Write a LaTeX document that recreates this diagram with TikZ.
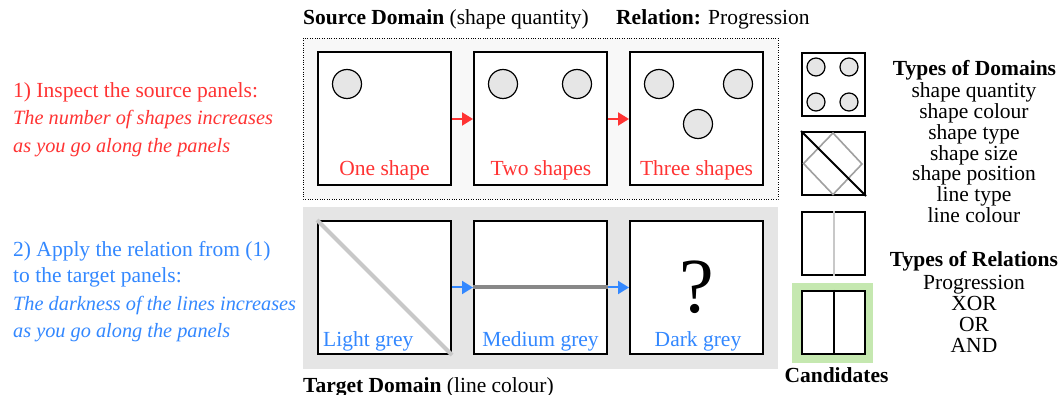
\documentclass[tikz,border=0pt]{standalone}
\usepackage{fontspec}
\setmainfont{Liberation Serif}
\usetikzlibrary{arrows.meta}
\definecolor{myred}{HTML}{FF3333}
\definecolor{myblue}{HTML}{3388FF}
\definecolor{srcbg}{HTML}{F8F8F8}
\definecolor{tgtbg}{HTML}{E5E5E5}
\definecolor{circfill}{HTML}{E6E6E6}
\definecolor{lightline}{HTML}{C8C8C8}
\definecolor{medline}{HTML}{888888}
\definecolor{candbg}{HTML}{C5E8B0}
\tikzset{
  txt/.style={font=\fontsize{21.5}{24}\selectfont, inner sep=0pt, anchor=base},
  itxt/.style={font=\fontsize{20.3}{24}\selectfont\itshape, inner sep=0pt, anchor=base west},
  panel/.style={draw, line width=2pt, fill=white, minimum size=133pt, inner sep=0pt},
  icon/.style={draw, line width=2pt, fill=white, minimum size=63pt, inner sep=0pt},
  circ/.style={draw, line width=1.2pt, fill=circfill},
  redarrow/.style={draw=myred, line width=2pt, -{Triangle[length=11pt,width=13pt]}},
  bluearrow/.style={draw=myblue, line width=2pt, -{Triangle[length=11pt,width=13pt]}},
}
\begin{document}
\begin{tikzpicture}[x=1pt,y=-1pt]
\useasboundingbox (0,0) rectangle (1061,395);
\fill[white] (0,0) rectangle (1061,395);
% backgrounds
\draw[dotted, fill=srcbg] (303,38) rectangle (778,199);
\fill[tgtbg] (303,207) rectangle (778,369);
% titles
\node[txt, anchor=base west] (srctitle) at (303,25) {\textbf{Source Domain} (shape quantity)};
\node[txt, anchor=base west] (reltitle) at (616,25) {\textbf{Relation:} Progression};
\node[txt, anchor=base west] (tgttitle) at (303,392) {\textbf{Target Domain} (line colour)};
% source panels
\node[panel] (s1) at (384.5,119) {};
\node[panel] (s2) at (540.5,119) {};
\node[panel] (s3) at (696.5,119) {};
\draw[circ] (347,84) circle[radius=14.5];
\draw[circ] (503,84) circle[radius=14.5];
\draw[circ] (577,84) circle[radius=14.5];
\draw[circ] (659,84) circle[radius=14.5];
\draw[circ] (738,84) circle[radius=14.5];
\draw[circ] (698,124) circle[radius=14.5];
\node[txt, text=myred] (l1) at (384.5,176) {One shape};
\node[txt, text=myred] (l2) at (541,176) {Two shapes};
\node[txt, text=myred] (l3) at (696.5,176) {Three shapes};
\draw[redarrow] (s1.east) -- (s2.west);
\draw[redarrow] (s2.east) -- (s3.west);
% target panels
\node[panel] (t1) at (384.5,287.5) {};
\node[panel] (t2) at (540.5,287.5) {};
\node[panel] (t3) at (696.5,287.5) {};
\draw[lightline, line width=4pt] (t1.north west) -- (t1.south east);
\draw[medline, line width=4pt] (t2.west) -- (t2.east);
\node[inner sep=0pt, anchor=base, font=\fontsize{78}{78}\selectfont] (qm) at (697,313) {?};
\node[txt, anchor=base west, text=myblue] (m1) at (323,347) {Light grey};
\node[txt, text=myblue] (m2) at (540.5,347) {Medium grey};
\node[txt, text=myblue] (m3) at (698,347) {Dark grey};
\draw[bluearrow] (t1.east) -- (t2.west);
\draw[bluearrow] (t2.east) -- (t3.west);
% left instructions
\node[txt, anchor=base west, text=myred] (i1) at (13,98) {1) Inspect the source panels:};
\node[itxt, text=myred] (i2) at (13,125) {The number of shapes increases};
\node[itxt, text=myred] (i3) at (13,153) {as you go along the panels};
\node[txt, anchor=base west, text=myblue] (j1) at (13,257) {2) Apply the relation from (1)};
\node[txt, anchor=base west, text=myblue] (j2) at (13,283) {to the target panels:};
\node[itxt, text=myblue] (j3) at (13,311) {The darkness of the lines increases};
\node[itxt, text=myblue] (j4) at (13,338) {as you go along the panels};
% right icons
\fill[candbg] (792,283) rectangle (873,363);
\node[icon] (k1) at (833.5,84.5) {};
\draw[circ] (816,67) circle[radius=9];
\draw[circ] (849,67) circle[radius=9];
\draw[circ] (816,102) circle[radius=9];
\draw[circ] (849,102) circle[radius=9];
\node[icon] (k2) at (833.5,163.5) {};
\draw[medline!80, line width=1.6pt] (833,133) -- (862,164) -- (833,194.5) -- (803.5,163.5) -- cycle;
\draw[line width=2pt] (k2.north west) -- (k2.south east);
\node[icon] (k3) at (833.5,243.5) {};
\draw[lightline, line width=2pt] (k3.north) -- (k3.south);
\node[icon] (k4) at (833.5,322.5) {};
\draw[line width=2pt] (k4.north) -- (k4.south);
\node[txt] (cand) at (836.5,383) {\textbf{Candidates}};
% right text
\node[txt] (dtitle) at (974.5,76) {\textbf{Types of Domains}};
\foreach \t [count=\i] in {shape quantity, shape colour, shape type, shape size, shape position, line type, line colour}
  \node[txt] (d\i) at (974,{98+(\i-1)*20.75}) {\t};
\node[txt] (rtitle) at (974,267) {\textbf{Types of Relations}};
\foreach \t [count=\i] in {Progression, XOR, OR, AND}
  \node[txt] (r\i) at (974,{290+(\i-1)*21}) {\t};
\end{tikzpicture}
\end{document}
